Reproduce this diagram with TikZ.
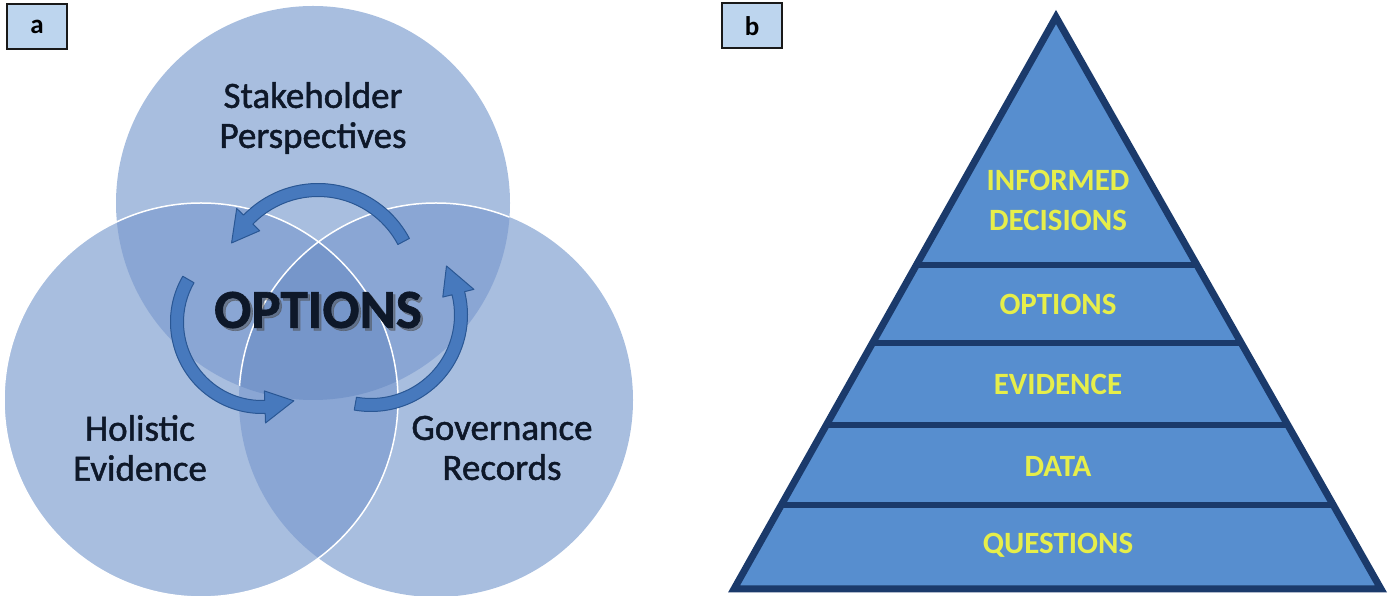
\documentclass[tikz,border=0pt]{standalone}
\usepackage{fontspec}
\setmainfont{Carlito}
\newfontfamily\labfont{Carlito}[FakeBold=1.3]
\newfontfamily\heavyfont{Carlito Bold}[FakeBold=1.2]
\definecolor{cone}{HTML}{A8BEDF}
\definecolor{ctwo}{HTML}{8AA6D4}
\definecolor{cthree}{HTML}{7696CA}
\definecolor{arrfill}{HTML}{4779BD}
\definecolor{arrdraw}{HTML}{2A5794}
\definecolor{labtext}{HTML}{0E1829}
\definecolor{pyrfill}{HTML}{578ECF}
\definecolor{pyrdraw}{HTML}{1B3A6B}
\definecolor{pyrtext}{HTML}{E6EE4A}
\definecolor{panelfill}{HTML}{BDD5EE}
\newcommand{\blockarc}[6]{%
  \pgfmathsetmacro\bro{#3+6.5}%
  \pgfmathsetmacro\bri{#3-6.5}%
  \pgfmathsetmacro\bho{#3+16}%
  \pgfmathsetmacro\bhi{#3-16}%
  \filldraw[arrowshape, shift={(#1,#2)}]
    (#4:\bro pt) arc[start angle=#4, end angle=#5, radius=\bro pt]
    -- (#5:\bho pt) -- (#6:#3pt) -- (#5:\bhi pt) -- (#5:\bri pt)
    arc[start angle=#5, end angle=#4, radius=\bri pt] -- cycle;}
\tikzset{
  arrowshape/.style={fill=arrfill, draw=arrdraw, line width=1pt, line join=round},
  circlabel/.style={text=labtext, align=center, font=\fontsize{37}{40}\labfont, inner sep=0pt},
  pyrlabel/.style={text=pyrtext, align=center, font=\fontsize{31}{40}\selectfont\bfseries, inner sep=0pt},
  panel/.style={draw=black!90, fill=panelfill, line width=2pt, minimum width=60pt, minimum height=45pt, inner sep=0pt, font=\fontsize{27}{30}\selectfont\bfseries}
}
\begin{document}
\begin{tikzpicture}[x=1pt,y=1pt]
\useasboundingbox (0,0) rectangle (1389,596);
% ---------- panel a : Venn ----------
\def\CT{(313,393) circle[radius=197pt]}
\def\CL{(201,196) circle[radius=197pt]}
\def\CR{(436,196) circle[radius=197pt]}
\fill[cone] \CT;
\fill[cone] \CL;
\fill[cone] \CR;
\begin{scope}\clip \CT; \fill[ctwo] \CL; \end{scope}
\begin{scope}\clip \CT; \fill[ctwo] \CR; \end{scope}
\begin{scope}\clip \CL; \fill[ctwo] \CR; \end{scope}
\begin{scope}\clip \CT; \clip \CL; \fill[cthree] \CR; \end{scope}
\draw[white, line width=1.5pt] \CL;
\begin{scope}\clip \CT; \draw[white, line width=1.5pt] \CR; \end{scope}
% curved arrows
\blockarc{318}{309}{97}{28}{136}{153}
\blockarc{262}{274}{85}{150}{272}{292}
\blockarc{371}{281}{90}{260}{374}{393}
% labels
\node[circlabel] (stake) at (313,478) {Stakeholder\\Perspectives};
\node[circlabel] (holis) at (140,148) {Holistic\\Evidence};
\node[circlabel] (gover) at (502,148) {Governance\\Records};
\node[text=black!70, opacity=0.5, font=\fontsize{55}{60}\heavyfont, inner sep=0pt] (optshadow) at (320.5,283.5) {OPTIONS};
\node[text=labtext, font=\fontsize{55}{60}\heavyfont, inner sep=0pt] (opt) at (318,286) {OPTIONS};
\node[panel] (pa) at (37,569.5) {a};
% ---------- panel b : pyramid ----------
\coordinate (apex) at (1056,579);
\coordinate (bl) at (734,7);
\coordinate (br) at (1381,7);
\fill[pyrfill] (apex) -- (bl) -- (br) -- cycle;
\begin{scope}
  \clip (apex) -- (bl) -- (br) -- cycle;
  \foreach \yy in {331,253,171,91} \draw[pyrdraw, line width=6pt] (700,\yy) -- (1389,\yy);
\end{scope}
\draw[pyrdraw, line width=7pt, line join=miter] (apex) -- (bl) -- (br) -- cycle;
\node[pyrlabel] (informed) at (1058,396) {INFORMED\\DECISIONS};
\node[pyrlabel] (options) at (1058,292) {OPTIONS};
\node[pyrlabel] (evidence) at (1058,212) {EVIDENCE};
\node[pyrlabel] (data) at (1058,130) {DATA};
\node[pyrlabel] (questions) at (1058,51) {QUESTIONS};
\node[panel] (pb) at (752,570) {b};
\end{tikzpicture}
\end{document}
